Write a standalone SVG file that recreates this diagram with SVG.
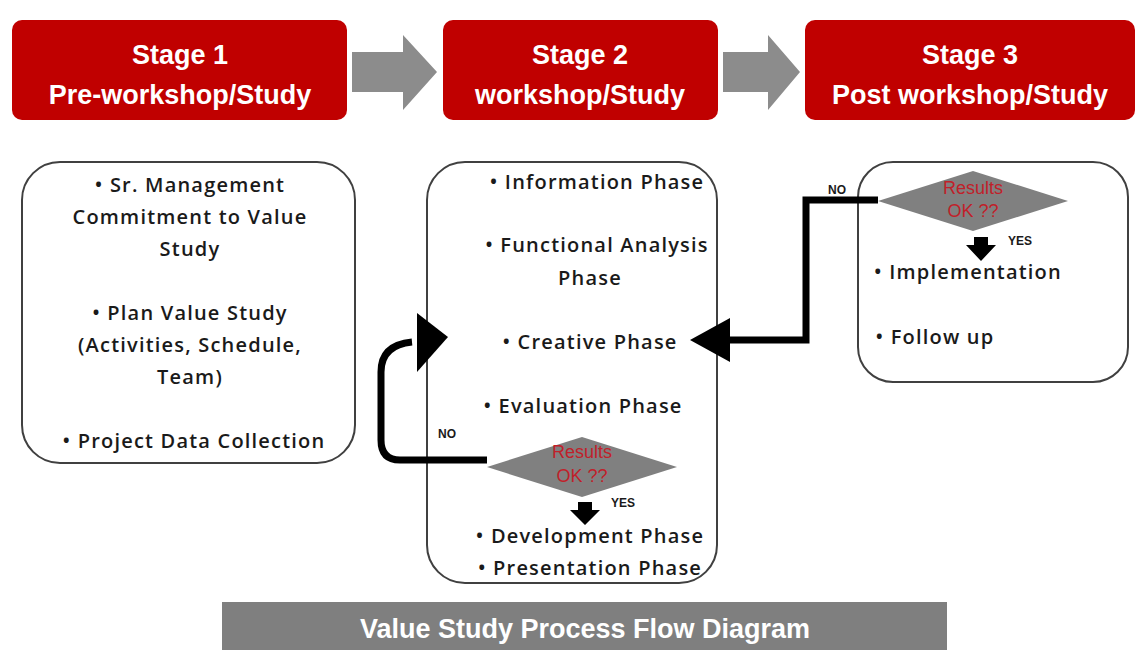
<svg xmlns="http://www.w3.org/2000/svg" width="1145" height="650" viewBox="0 0 1145 650">
<style>
.stage{fill:#C00000}
.st{font-family:"Liberation Sans",Arial,sans-serif;font-weight:bold;font-size:27px;fill:#fff;text-anchor:middle}
.box{fill:#fff;stroke:#404040;stroke-width:2}
.t{font-family:"Open Sans","Liberation Sans",sans-serif;font-weight:600;font-size:20px;letter-spacing:1.2px;fill:#1a1a1a;text-anchor:middle}
.dia{fill:#808080}
.res{font-family:"Liberation Sans",Arial,sans-serif;font-size:18px;fill:#C0202A;text-anchor:middle}
.lbl{font-family:"Liberation Sans",Arial,sans-serif;font-weight:bold;font-size:12px;fill:#1a1a1a}
.con{fill:none;stroke:#000;stroke-width:7}
.garrow{fill:#8C8C8C}
</style>
<rect width="1145" height="650" fill="#fff"/>
<g id="stage1"><rect class="stage" x="12" y="20" width="335" height="100" rx="10"/><text class="st" x="180" y="64">Stage 1</text><text class="st" x="180" y="104">Pre-workshop/Study</text></g>
<g id="stage2"><rect class="stage" x="443" y="20" width="275" height="100" rx="10"/><text class="st" x="580" y="64">Stage 2</text><text class="st" x="580" y="104">workshop/Study</text></g>
<g id="stage3"><rect class="stage" x="805" y="20" width="330" height="100" rx="10"/><text class="st" x="970" y="64">Stage 3</text><text class="st" x="970" y="104">Post workshop/Study</text></g>
<g id="stage-arrows">
<polygon class="garrow" points="352,52 403,52 403,35 437,72 403,110 403,92 352,92"/>
<polygon class="garrow" points="723,52 768,52 768,35 800,72 768,110 768,92 723,92"/>
</g>
<g id="pre-box"><rect class="box" x="22" y="162" width="333" height="301" rx="38"/>
<text class="t" x="190" y="192">• Sr. Management</text>
<text class="t" x="190" y="224">Commitment to Value</text>
<text class="t" x="190" y="256">Study</text>
<text class="t" x="190" y="320">• Plan Value Study</text>
<text class="t" x="190" y="352">(Activities, Schedule,</text>
<text class="t" x="190" y="384">Team)</text>
<text class="t" x="194" y="448">• Project Data Collection</text>
</g>
<g id="workshop-box"><rect class="box" x="427" y="162" width="290" height="421" rx="38"/>
<text class="t" x="597" y="189">• Information Phase</text>
<text class="t" x="597" y="252">• Functional Analysis</text>
<text class="t" x="590" y="285">Phase</text>
<text class="t" x="590" y="349">• Creative Phase</text>
<text class="t" x="583" y="413">• Evaluation Phase</text>
<text class="t" x="590" y="543">• Development Phase</text>
<text class="t" x="590" y="575">• Presentation Phase</text>
</g>
<g id="decision2"><polygon class="dia" points="487,467 582,437 677,467 582,497"/>
<text class="res" x="582" y="458">Results</text><text class="res" x="582" y="482">OK ??</text></g>
<g id="post-box"><rect class="box" x="858" y="162" width="270" height="220" rx="35"/>
<text class="t" x="968" y="279">• Implementation</text>
<text class="t" x="935" y="344">• Follow up</text>
</g>
<g id="decision3"><polygon class="dia" points="878,201 973,171 1068,201 973,231"/>
<text class="res" x="973" y="194">Results</text><text class="res" x="973" y="217">OK ??</text></g>
<g id="connectors">
<path class="con" d="M487,460 H400 Q381,460 381,440 V372 Q381,345 412,342"/>
<polygon points="417,313 448,337 417,372" fill="#000"/>
<path class="con" d="M878,200 H806 V340 H725"/>
<polygon points="730,318 690,340 730,362" fill="#000"/>
<polygon points="578,502 592,502 592,510 600,510 585,525 570,510 578,510" fill="#000"/>
<polygon points="974,237 988,237 988,245 996,245 981,261 966,245 974,245" fill="#000"/>
</g>
<g id="labels">
<text class="lbl" x="438" y="438">NO</text>
<text class="lbl" x="611" y="507">YES</text>
<text class="lbl" x="828" y="194">NO</text>
<text class="lbl" x="1008" y="245">YES</text>
</g>
<g id="title"><rect x="222" y="602" width="725" height="48" fill="#7F7F7F"/>
<text class="st" x="585" y="638" font-size="29">Value Study Process Flow Diagram</text></g>
</svg>
